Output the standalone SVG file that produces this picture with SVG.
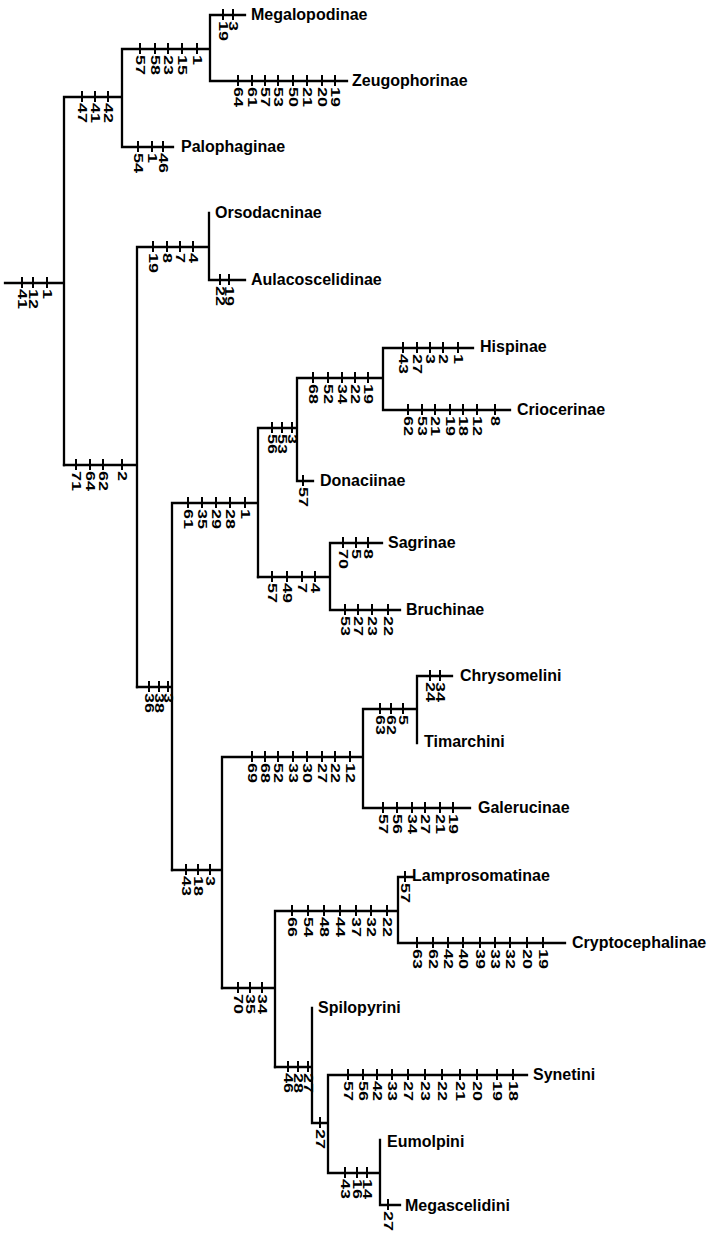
<svg xmlns="http://www.w3.org/2000/svg" width="721" height="1239" viewBox="0 0 721 1239">
<style>
.br{fill:none;stroke:#000;stroke-width:2.3;stroke-linecap:square;stroke-linejoin:miter}
.tk{fill:none;stroke:#000;stroke-width:2}
.nm{font-family:"Liberation Sans",Arial,Helvetica,sans-serif;font-weight:bold;font-size:12px;fill:#000}
.lb{font-family:"Liberation Sans",Arial,Helvetica,sans-serif;font-weight:bold;font-size:16px;fill:#000}
</style>
<rect width="721" height="1239" fill="#fff"/>
<g id="connectors">
<path class="br" d="M5 283H64M64 97V465M64 97H122M122 49V147M122 49H210M210 15V81M210 15H245M210 81H347M122 147H173"/>
<path class="br" d="M64 465H137M137 247V687M137 247H209M209 213V280M209 280H245"/>
<path class="br" d="M137 687H172M172 503V870M172 503H258M258 428V577M258 428H297M297 378V481M297 378H383M383 348V410M383 348H473M383 410H510M297 481H313"/>
<path class="br" d="M258 577H330M330 543V610M330 543H382M330 610H400"/>
<path class="br" d="M172 870H222M222 757V988M222 757H363M363 709V808M363 709H417M417 676V743M417 676H452M363 808H470"/>
<path class="br" d="M222 988H275M275 911V1067M275 911H398M398 877V943M398 877H413M398 943H565"/>
<path class="br" d="M275 1067H312M312 1008V1123M312 1123H328M328 1075V1173M328 1075H527M328 1173H380M380 1140V1205M380 1205H400"/>
</g>
<g id="characters">
<g id="ch-root"><path class="tk" d="M22 277v11M33 277v11M47 277v11"/>
<text class="nm" transform="translate(18,289) rotate(90) scale(1.5,1)">41</text><text class="nm" transform="translate(29,289) rotate(90) scale(1.5,1)">12</text><text class="nm" transform="translate(43,289) rotate(90) scale(1.5,1)">1</text></g>
<g id="ch-a"><path class="tk" d="M82 91v11M95 91v11M108 91v11"/>
<text class="nm" transform="translate(78,103) rotate(90) scale(1.5,1)">47</text><text class="nm" transform="translate(91,103) rotate(90) scale(1.5,1)">41</text><text class="nm" transform="translate(104,103) rotate(90) scale(1.5,1)">42</text></g>
<g id="ch-b"><path class="tk" d="M140 43v11M155 43v11M168 43v11M182 43v11M197 43v11"/>
<text class="nm" transform="translate(136,55) rotate(90) scale(1.5,1)">57</text><text class="nm" transform="translate(151,55) rotate(90) scale(1.5,1)">58</text><text class="nm" transform="translate(164,55) rotate(90) scale(1.5,1)">23</text><text class="nm" transform="translate(178,55) rotate(90) scale(1.5,1)">15</text><text class="nm" transform="translate(193,55) rotate(90) scale(1.5,1)">1</text></g>
<g id="ch-megalopodinae"><path class="tk" d="M223 9v11M233 9v11"/>
<text class="nm" transform="translate(219,21) rotate(90) scale(1.5,1)">19</text><text class="nm" transform="translate(229,21) rotate(90) scale(1.5,1)">3</text></g>
<g id="ch-zeugophorinae"><path class="tk" d="M238 75v11M252 75v11M265 75v11M278 75v11M293 75v11M307 75v11M322 75v11M335 75v11"/>
<text class="nm" transform="translate(234,87) rotate(90) scale(1.5,1)">64</text><text class="nm" transform="translate(248,87) rotate(90) scale(1.5,1)">61</text><text class="nm" transform="translate(261,87) rotate(90) scale(1.5,1)">57</text><text class="nm" transform="translate(274,87) rotate(90) scale(1.5,1)">53</text><text class="nm" transform="translate(289,87) rotate(90) scale(1.5,1)">50</text><text class="nm" transform="translate(303,87) rotate(90) scale(1.5,1)">21</text><text class="nm" transform="translate(318,87) rotate(90) scale(1.5,1)">20</text><text class="nm" transform="translate(331,87) rotate(90) scale(1.5,1)">19</text></g>
<g id="ch-palophaginae"><path class="tk" d="M138 141v11M152 141v11M163 141v11"/>
<text class="nm" transform="translate(134,153) rotate(90) scale(1.5,1)">54</text><text class="nm" transform="translate(148,153) rotate(90) scale(1.5,1)">1</text><text class="nm" transform="translate(159,153) rotate(90) scale(1.5,1)">46</text></g>
<g id="ch-orsod-clade"><path class="tk" d="M153 241v11M167 241v11M180 241v11M193 241v11"/>
<text class="nm" transform="translate(149,253) rotate(90) scale(1.5,1)">19</text><text class="nm" transform="translate(163,253) rotate(90) scale(1.5,1)">8</text><text class="nm" transform="translate(176,253) rotate(90) scale(1.5,1)">7</text><text class="nm" transform="translate(189,253) rotate(90) scale(1.5,1)">4</text></g>
<g id="ch-aulacoscelidinae"><path class="tk" d="M220 274v11M229 274v11"/>
<text class="nm" transform="translate(216,286) rotate(90) scale(1.5,1)">22</text><text class="nm" transform="translate(225,286) rotate(90) scale(1.5,1)">19</text></g>
<g id="ch-a-bottom"><path class="tk" d="M76 459v11M90 459v11M103 459v11M122 459v11"/>
<text class="nm" transform="translate(72,471) rotate(90) scale(1.5,1)">71</text><text class="nm" transform="translate(86,471) rotate(90) scale(1.5,1)">64</text><text class="nm" transform="translate(99,471) rotate(90) scale(1.5,1)">62</text><text class="nm" transform="translate(118,471) rotate(90) scale(1.5,1)">2</text></g>
<g id="ch-d-bottom"><path class="tk" d="M149 681v11M159 681v11M168 681v11"/>
<text class="nm" transform="translate(145,693) rotate(90) scale(1.5,1)">36</text><text class="nm" transform="translate(155,693) rotate(90) scale(1.5,1)">38</text><text class="nm" transform="translate(164,693) rotate(90) scale(1.5,1)">3</text></g>
<g id="ch-f-top"><path class="tk" d="M188 497v11M202 497v11M216 497v11M230 497v11M245 497v11"/>
<text class="nm" transform="translate(184,509) rotate(90) scale(1.5,1)">61</text><text class="nm" transform="translate(198,509) rotate(90) scale(1.5,1)">35</text><text class="nm" transform="translate(212,509) rotate(90) scale(1.5,1)">29</text><text class="nm" transform="translate(226,509) rotate(90) scale(1.5,1)">28</text><text class="nm" transform="translate(241,509) rotate(90) scale(1.5,1)">1</text></g>
<g id="ch-g-top"><path class="tk" d="M272 422v11M282 422v11M292 422v11"/>
<text class="nm" transform="translate(268,434) rotate(90) scale(1.5,1)">56</text><text class="nm" transform="translate(278,434) rotate(90) scale(1.5,1)">53</text><text class="nm" transform="translate(288,434) rotate(90) scale(1.5,1)">3</text></g>
<g id="ch-h-top"><path class="tk" d="M313 372v11M328 372v11M342 372v11M355 372v11M368 372v11"/>
<text class="nm" transform="translate(309,384) rotate(90) scale(1.5,1)">68</text><text class="nm" transform="translate(324,384) rotate(90) scale(1.5,1)">52</text><text class="nm" transform="translate(338,384) rotate(90) scale(1.5,1)">34</text><text class="nm" transform="translate(351,384) rotate(90) scale(1.5,1)">22</text><text class="nm" transform="translate(364,384) rotate(90) scale(1.5,1)">19</text></g>
<g id="ch-hispinae"><path class="tk" d="M403 342v11M417 342v11M430 342v11M443 342v11M458 342v11"/>
<text class="nm" transform="translate(399,354) rotate(90) scale(1.5,1)">43</text><text class="nm" transform="translate(413,354) rotate(90) scale(1.5,1)">27</text><text class="nm" transform="translate(426,354) rotate(90) scale(1.5,1)">3</text><text class="nm" transform="translate(439,354) rotate(90) scale(1.5,1)">2</text><text class="nm" transform="translate(454,354) rotate(90) scale(1.5,1)">1</text></g>
<g id="ch-criocerinae"><path class="tk" d="M408 404v11M422 404v11M435 404v11M450 404v11M463 404v11M477 404v11M495 404v11"/>
<text class="nm" transform="translate(404,416) rotate(90) scale(1.5,1)">62</text><text class="nm" transform="translate(418,416) rotate(90) scale(1.5,1)">53</text><text class="nm" transform="translate(431,416) rotate(90) scale(1.5,1)">21</text><text class="nm" transform="translate(446,416) rotate(90) scale(1.5,1)">19</text><text class="nm" transform="translate(459,416) rotate(90) scale(1.5,1)">18</text><text class="nm" transform="translate(473,416) rotate(90) scale(1.5,1)">12</text><text class="nm" transform="translate(491,416) rotate(90) scale(1.5,1)">8</text></g>
<g id="ch-donaciinae"><path class="tk" d="M303 475v11"/>
<text class="nm" transform="translate(299,487) rotate(90) scale(1.5,1)">57</text></g>
<g id="ch-g-bottom"><path class="tk" d="M272 571v11M287 571v11M302 571v11M315 571v11"/>
<text class="nm" transform="translate(268,583) rotate(90) scale(1.5,1)">57</text><text class="nm" transform="translate(283,583) rotate(90) scale(1.5,1)">49</text><text class="nm" transform="translate(298,583) rotate(90) scale(1.5,1)">7</text><text class="nm" transform="translate(311,583) rotate(90) scale(1.5,1)">4</text></g>
<g id="ch-sagrinae"><path class="tk" d="M343 537v11M356 537v11M368 537v11"/>
<text class="nm" transform="translate(339,549) rotate(90) scale(1.5,1)">70</text><text class="nm" transform="translate(352,549) rotate(90) scale(1.5,1)">5</text><text class="nm" transform="translate(364,549) rotate(90) scale(1.5,1)">8</text></g>
<g id="ch-bruchinae"><path class="tk" d="M345 604v11M358 604v11M372 604v11M388 604v11"/>
<text class="nm" transform="translate(341,616) rotate(90) scale(1.5,1)">53</text><text class="nm" transform="translate(354,616) rotate(90) scale(1.5,1)">27</text><text class="nm" transform="translate(368,616) rotate(90) scale(1.5,1)">23</text><text class="nm" transform="translate(384,616) rotate(90) scale(1.5,1)">22</text></g>
<g id="ch-f-bottom"><path class="tk" d="M186 864v11M198 864v11M210 864v11"/>
<text class="nm" transform="translate(182,876) rotate(90) scale(1.5,1)">43</text><text class="nm" transform="translate(194,876) rotate(90) scale(1.5,1)">18</text><text class="nm" transform="translate(206,876) rotate(90) scale(1.5,1)">3</text></g>
<g id="ch-k-top"><path class="tk" d="M252 751v11M265 751v11M278 751v11M293 751v11M307 751v11M322 751v11M335 751v11M350 751v11"/>
<text class="nm" transform="translate(248,763) rotate(90) scale(1.5,1)">69</text><text class="nm" transform="translate(261,763) rotate(90) scale(1.5,1)">68</text><text class="nm" transform="translate(274,763) rotate(90) scale(1.5,1)">52</text><text class="nm" transform="translate(289,763) rotate(90) scale(1.5,1)">33</text><text class="nm" transform="translate(303,763) rotate(90) scale(1.5,1)">30</text><text class="nm" transform="translate(318,763) rotate(90) scale(1.5,1)">27</text><text class="nm" transform="translate(331,763) rotate(90) scale(1.5,1)">22</text><text class="nm" transform="translate(346,763) rotate(90) scale(1.5,1)">12</text></g>
<g id="ch-l-top"><path class="tk" d="M380 703v11M391 703v11M403 703v11"/>
<text class="nm" transform="translate(376,715) rotate(90) scale(1.5,1)">63</text><text class="nm" transform="translate(387,715) rotate(90) scale(1.5,1)">62</text><text class="nm" transform="translate(399,715) rotate(90) scale(1.5,1)">5</text></g>
<g id="ch-chrysomelini"><path class="tk" d="M430 670v11M440 670v11"/>
<text class="nm" transform="translate(426,682) rotate(90) scale(1.5,1)">24</text><text class="nm" transform="translate(436,682) rotate(90) scale(1.5,1)">34</text></g>
<g id="ch-galerucinae"><path class="tk" d="M383 802v11M397 802v11M412 802v11M425 802v11M440 802v11M453 802v11"/>
<text class="nm" transform="translate(379,814) rotate(90) scale(1.5,1)">57</text><text class="nm" transform="translate(393,814) rotate(90) scale(1.5,1)">56</text><text class="nm" transform="translate(408,814) rotate(90) scale(1.5,1)">34</text><text class="nm" transform="translate(421,814) rotate(90) scale(1.5,1)">27</text><text class="nm" transform="translate(436,814) rotate(90) scale(1.5,1)">21</text><text class="nm" transform="translate(449,814) rotate(90) scale(1.5,1)">19</text></g>
<g id="ch-k-bottom"><path class="tk" d="M238 982v11M250 982v11M262 982v11"/>
<text class="nm" transform="translate(234,994) rotate(90) scale(1.5,1)">70</text><text class="nm" transform="translate(246,994) rotate(90) scale(1.5,1)">35</text><text class="nm" transform="translate(258,994) rotate(90) scale(1.5,1)">34</text></g>
<g id="ch-n-top"><path class="tk" d="M292 905v11M308 905v11M324 905v11M340 905v11M356 905v11M371 905v11M387 905v11"/>
<text class="nm" transform="translate(288,917) rotate(90) scale(1.5,1)">66</text><text class="nm" transform="translate(304,917) rotate(90) scale(1.5,1)">54</text><text class="nm" transform="translate(320,917) rotate(90) scale(1.5,1)">48</text><text class="nm" transform="translate(336,917) rotate(90) scale(1.5,1)">44</text><text class="nm" transform="translate(352,917) rotate(90) scale(1.5,1)">37</text><text class="nm" transform="translate(367,917) rotate(90) scale(1.5,1)">32</text><text class="nm" transform="translate(383,917) rotate(90) scale(1.5,1)">22</text></g>
<g id="ch-lamprosomatinae"><path class="tk" d="M405 871v11"/>
<text class="nm" transform="translate(401,883) rotate(90) scale(1.5,1)">57</text></g>
<g id="ch-cryptocephalinae"><path class="tk" d="M417 937v11M433 937v11M448 937v11M463 937v11M480 937v11M495 937v11M510 937v11M527 937v11M543 937v11"/>
<text class="nm" transform="translate(413,949) rotate(90) scale(1.5,1)">63</text><text class="nm" transform="translate(429,949) rotate(90) scale(1.5,1)">62</text><text class="nm" transform="translate(444,949) rotate(90) scale(1.5,1)">42</text><text class="nm" transform="translate(459,949) rotate(90) scale(1.5,1)">40</text><text class="nm" transform="translate(476,949) rotate(90) scale(1.5,1)">39</text><text class="nm" transform="translate(491,949) rotate(90) scale(1.5,1)">33</text><text class="nm" transform="translate(506,949) rotate(90) scale(1.5,1)">32</text><text class="nm" transform="translate(523,949) rotate(90) scale(1.5,1)">20</text><text class="nm" transform="translate(539,949) rotate(90) scale(1.5,1)">19</text></g>
<g id="ch-n-bottom"><path class="tk" d="M288 1061v11M298 1061v11M308 1061v11"/>
<text class="nm" transform="translate(284,1073) rotate(90) scale(1.5,1)">46</text><text class="nm" transform="translate(294,1073) rotate(90) scale(1.5,1)">28</text><text class="nm" transform="translate(304,1073) rotate(90) scale(1.5,1)">27</text></g>
<g id="ch-p-bottom"><path class="tk" d="M320 1117v11"/>
<text class="nm" transform="translate(316,1129) rotate(90) scale(1.5,1)">27</text></g>
<g id="ch-synetini"><path class="tk" d="M348 1069v11M363 1069v11M377 1069v11M392 1069v11M408 1069v11M425 1069v11M442 1069v11M460 1069v11M477 1069v11M497 1069v11M513 1069v11"/>
<text class="nm" transform="translate(344,1081) rotate(90) scale(1.5,1)">57</text><text class="nm" transform="translate(359,1081) rotate(90) scale(1.5,1)">56</text><text class="nm" transform="translate(373,1081) rotate(90) scale(1.5,1)">42</text><text class="nm" transform="translate(388,1081) rotate(90) scale(1.5,1)">33</text><text class="nm" transform="translate(404,1081) rotate(90) scale(1.5,1)">27</text><text class="nm" transform="translate(421,1081) rotate(90) scale(1.5,1)">23</text><text class="nm" transform="translate(438,1081) rotate(90) scale(1.5,1)">22</text><text class="nm" transform="translate(456,1081) rotate(90) scale(1.5,1)">21</text><text class="nm" transform="translate(473,1081) rotate(90) scale(1.5,1)">20</text><text class="nm" transform="translate(493,1081) rotate(90) scale(1.5,1)">19</text><text class="nm" transform="translate(509,1081) rotate(90) scale(1.5,1)">18</text></g>
<g id="ch-q-bottom"><path class="tk" d="M345 1167v11M357 1167v11M367 1167v11"/>
<text class="nm" transform="translate(341,1179) rotate(90) scale(1.5,1)">43</text><text class="nm" transform="translate(353,1179) rotate(90) scale(1.5,1)">16</text><text class="nm" transform="translate(363,1179) rotate(90) scale(1.5,1)">14</text></g>
<g id="ch-megascelidini"><path class="tk" d="M388 1199v11"/>
<text class="nm" transform="translate(384,1211) rotate(90) scale(1.5,1)">27</text></g>
</g>
<g id="taxa">
<g id="megalopodinae"><text class="lb" x="251" y="20">Megalopodinae</text></g>
<g id="zeugophorinae"><text class="lb" x="352" y="86">Zeugophorinae</text></g>
<g id="palophaginae"><text class="lb" x="181" y="152">Palophaginae</text></g>
<g id="orsodacninae"><text class="lb" x="215" y="218">Orsodacninae</text></g>
<g id="aulacoscelidinae"><text class="lb" x="251" y="285">Aulacoscelidinae</text></g>
<g id="hispinae"><text class="lb" x="480" y="352">Hispinae</text></g>
<g id="criocerinae"><text class="lb" x="517" y="415">Criocerinae</text></g>
<g id="donaciinae"><text class="lb" x="320" y="486">Donaciinae</text></g>
<g id="sagrinae"><text class="lb" x="388" y="548">Sagrinae</text></g>
<g id="bruchinae"><text class="lb" x="406" y="615">Bruchinae</text></g>
<g id="chrysomelini"><text class="lb" x="460" y="681">Chrysomelini</text></g>
<g id="timarchini"><text class="lb" x="424" y="747">Timarchini</text></g>
<g id="galerucinae"><text class="lb" x="478" y="813">Galerucinae</text></g>
<g id="lamprosomatinae"><text class="lb" x="412" y="881">Lamprosomatinae</text></g>
<g id="cryptocephalinae"><text class="lb" x="572" y="948">Cryptocephalinae</text></g>
<g id="spilopyrini"><text class="lb" x="318" y="1013">Spilopyrini</text></g>
<g id="synetini"><text class="lb" x="533" y="1080">Synetini</text></g>
<g id="eumolpini"><text class="lb" x="387" y="1147">Eumolpini</text></g>
<g id="megascelidini"><text class="lb" x="405" y="1211">Megascelidini</text></g>
</g>
</svg>
